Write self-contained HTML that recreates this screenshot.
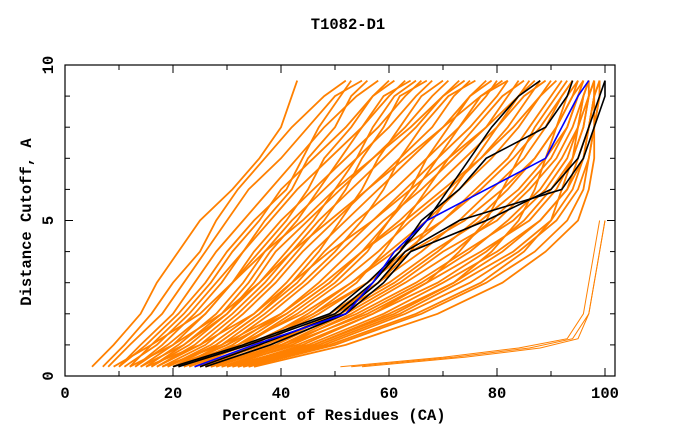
<!DOCTYPE html>
<html><head><meta charset="utf-8"><style>
body{margin:0;background:#fff}
svg text{font-family:"Liberation Mono",monospace;font-weight:bold;font-size:15.5px;fill:#000}
</style></head><body>
<svg id="chart" width="680" height="440" viewBox="0 0 680 440" xmlns="http://www.w3.org/2000/svg">
<text x="348" y="29" text-anchor="middle">T1082-D1</text>
<text x="334" y="420" text-anchor="middle">Percent of Residues (CA)</text>
<text transform="translate(31,222) rotate(-90)" text-anchor="middle">Distance Cutoff, A</text>
<g id="orange"></g>
<g id="refs"></g>
<g id="axes"></g>
</svg>
<script>
const cutoffs=[0.3,1,2,3,4,5,6,7,8,9,9.5];
const orangeLines=[
[5,9,14,17,21,25,31,36,40,42,43],
[7,11,16,20,25,28,32,37,42,48,52],
[8,12,18,22,26,30,34,40,45,50,55],
[10,14,20,24,28,33,38,43,48,54,58],
[12,16,22,27,31,36,40,46,52,57,60],
[13,18,24,29,33,38,43,49,55,60,63],
[14,20,26,31,35,40,46,52,58,63,66],
[15,21,28,33,37,42,48,54,60,65,68],
[16,23,30,35,39,45,51,57,63,68,71],
[17,24,31,37,42,47,53,59,65,70,73],
[18,26,33,39,44,50,56,62,68,72,75],
[19,27,35,41,46,52,58,64,70,75,78],
[20,28,36,43,48,54,61,67,73,78,80],
[21,30,38,45,51,57,63,69,75,80,82],
[22,31,40,47,53,59,66,72,78,82,84],
[23,32,41,49,55,62,68,74,80,84,86],
[24,33,43,51,58,64,71,77,82,86,88],
[25,35,45,53,60,67,73,79,84,88,90],
[26,36,47,56,63,70,76,82,86,90,92],
[27,38,49,58,66,73,79,85,89,92,94],
[28,39,51,61,69,76,82,87,91,94,95],
[29,41,53,63,72,79,85,90,93,95,96],
[30,42,55,66,75,82,88,92,95,97,97],
[31,44,57,69,78,85,90,94,96,97,98],
[32,46,60,72,81,88,93,96,97,98,98],
[33,48,63,75,84,91,95,97,98,98,99],
[34,50,66,78,87,93,96,97,98,99,99],
[35,52,69,81,89,95,97,98,98,99,99],
[28,40,52,62,70,80,86,91,94,96,97],
[22,34,46,56,64,74,81,87,91,94,96],
[18,29,40,48,55,63,70,77,83,88,91],
[15,25,35,42,49,57,64,71,78,84,87],
[24,37,50,60,68,77,84,89,93,95,96],
[26,40,54,65,74,83,89,93,95,96,97],
[30,45,59,70,80,88,93,95,97,98,98],
[20,32,44,53,61,70,77,83,88,92,94],
[12,20,29,36,42,49,56,63,70,77,81],
[9,16,25,31,37,44,50,57,64,70,74],
[32,47,62,73,83,90,94,96,97,98,99],
[27,41,56,67,77,86,91,94,96,97,98],
[11,17,23,28,33,37,42,45,50,53,56],
[13,19,26,31,36,41,45,48,53,57,61],
[16,22,29,34,38,43,47,51,55,59,64],
[10,15,21,26,30,35,41,44,47,51,53],
[17,25,32,38,43,48,52,55,59,62,67],
[19,28,36,42,47,51,55,58,62,66,70],
[21,29,37,44,50,55,59,62,66,71,76],
[14,22,30,36,41,46,50,54,57,61,65],
[23,33,42,50,56,60,64,67,71,75,79],
[25,36,46,54,59,63,67,71,76,81,85],
[26,38,50,58,64,68,72,76,80,85,89],
[29,43,57,67,73,78,81,84,87,91,93],
[31,46,61,72,79,84,87,89,91,93,95],
[20,30,41,49,55,60,65,69,73,77,82],
[33,49,65,77,85,90,92,94,95,96,97]
];
const tailCutoffs=[0.3,0.6,0.9,1.2,2,3,4,5];
const tailLines=[
[51,70,84,93,96,97,98,99],
[55,74,88,95,97,98,99,100],
[53,72,86,94,97,98,99,100]
];
const blackLines=[
[20,33,49,56,62,67,71,75,79,84,88],
[21,34,50,57,62,66,73,78,89,93,94],
[25,36,51,58,63,73,92,96,98,100,100],
[26,38,52,59,64,78,90,95,97,99,100]
];
const blueLine=[24,35,52,57,61,67,78,89,92,95,97];
const xTicks=[0,20,40,60,80,100];
const yTicks=[0,5,10];

const L=65,R=615,T=65,B=376;
const xs=v=>L+v*5.4;
const ys=v=>B-v*(B-T)/10;
const NS="http://www.w3.org/2000/svg";
function poly(g,xv,yv,color,w){
  const p=document.createElementNS(NS,'polyline');
  p.setAttribute('points',xv.map((x,i)=>xs(x).toFixed(1)+','+ys(yv[i]).toFixed(1)).join(' '));
  p.setAttribute('fill','none');
  p.setAttribute('stroke',color);
  p.setAttribute('stroke-width',w);
  g.appendChild(p);
  return p;
}
const og=document.getElementById('orange');
orangeLines.forEach(l=>{
  const p=poly(og,l,cutoffs,'#ff8000',1.8);
  
  
});
tailLines.forEach(l=>{
  const p=poly(og,l,tailCutoffs,'#ff8000',1);
  
  
});
const rg=document.getElementById('refs');
blackLines.forEach(l=>{
  const p=poly(rg,l,cutoffs,'#000',1.6);
  
  
});
const bl=poly(rg,blueLine,cutoffs,'#0000ff',1.6);



const ag=document.getElementById('axes');
const fr=document.createElementNS(NS,'rect');
fr.setAttribute('x',L);
fr.setAttribute('y',T);
fr.setAttribute('width',R-L);
fr.setAttribute('height',B-T);
fr.setAttribute('fill','none');
fr.setAttribute('stroke','#000');
fr.setAttribute('stroke-width','1.2');


ag.appendChild(fr);
function line(x1,y1,x2,y2){
  const l=document.createElementNS(NS,'line');
  l.setAttribute('x1',x1);
  l.setAttribute('y1',y1);
  l.setAttribute('x2',x2);
  l.setAttribute('y2',y2);
  l.setAttribute('stroke','#000');
  ag.appendChild(l);
  return l;
}
for(let v=0;v<=100;v+=10){
  const len=v%20===0?8:5;
  const a=line(xs(v),B,xs(v),B-len);
  
  
  const b=line(xs(v),T,xs(v),T+len);
  
  
}
for(let v=0;v<=10;v++){
  const len=v%5===0?8:5;
  const a=line(L,ys(v),L+len,ys(v));
  
  
  const b=line(R,ys(v),R-len,ys(v));
  
  
}
xTicks.forEach(v=>{
  const t=document.createElementNS(NS,'text');
  t.setAttribute('x',xs(v));
  t.setAttribute('y',398);
  t.setAttribute('text-anchor','middle');
  t.textContent=v;
  
  
  ag.appendChild(t);
});
yTicks.forEach(v=>{
  const t=document.createElementNS(NS,'text');
  t.setAttribute('transform',`translate(${L-12},${ys(v)}) rotate(-90)`);
  t.setAttribute('text-anchor','middle');
  t.textContent=v;
  
  
  ag.appendChild(t);
});
</script>
</body></html>
